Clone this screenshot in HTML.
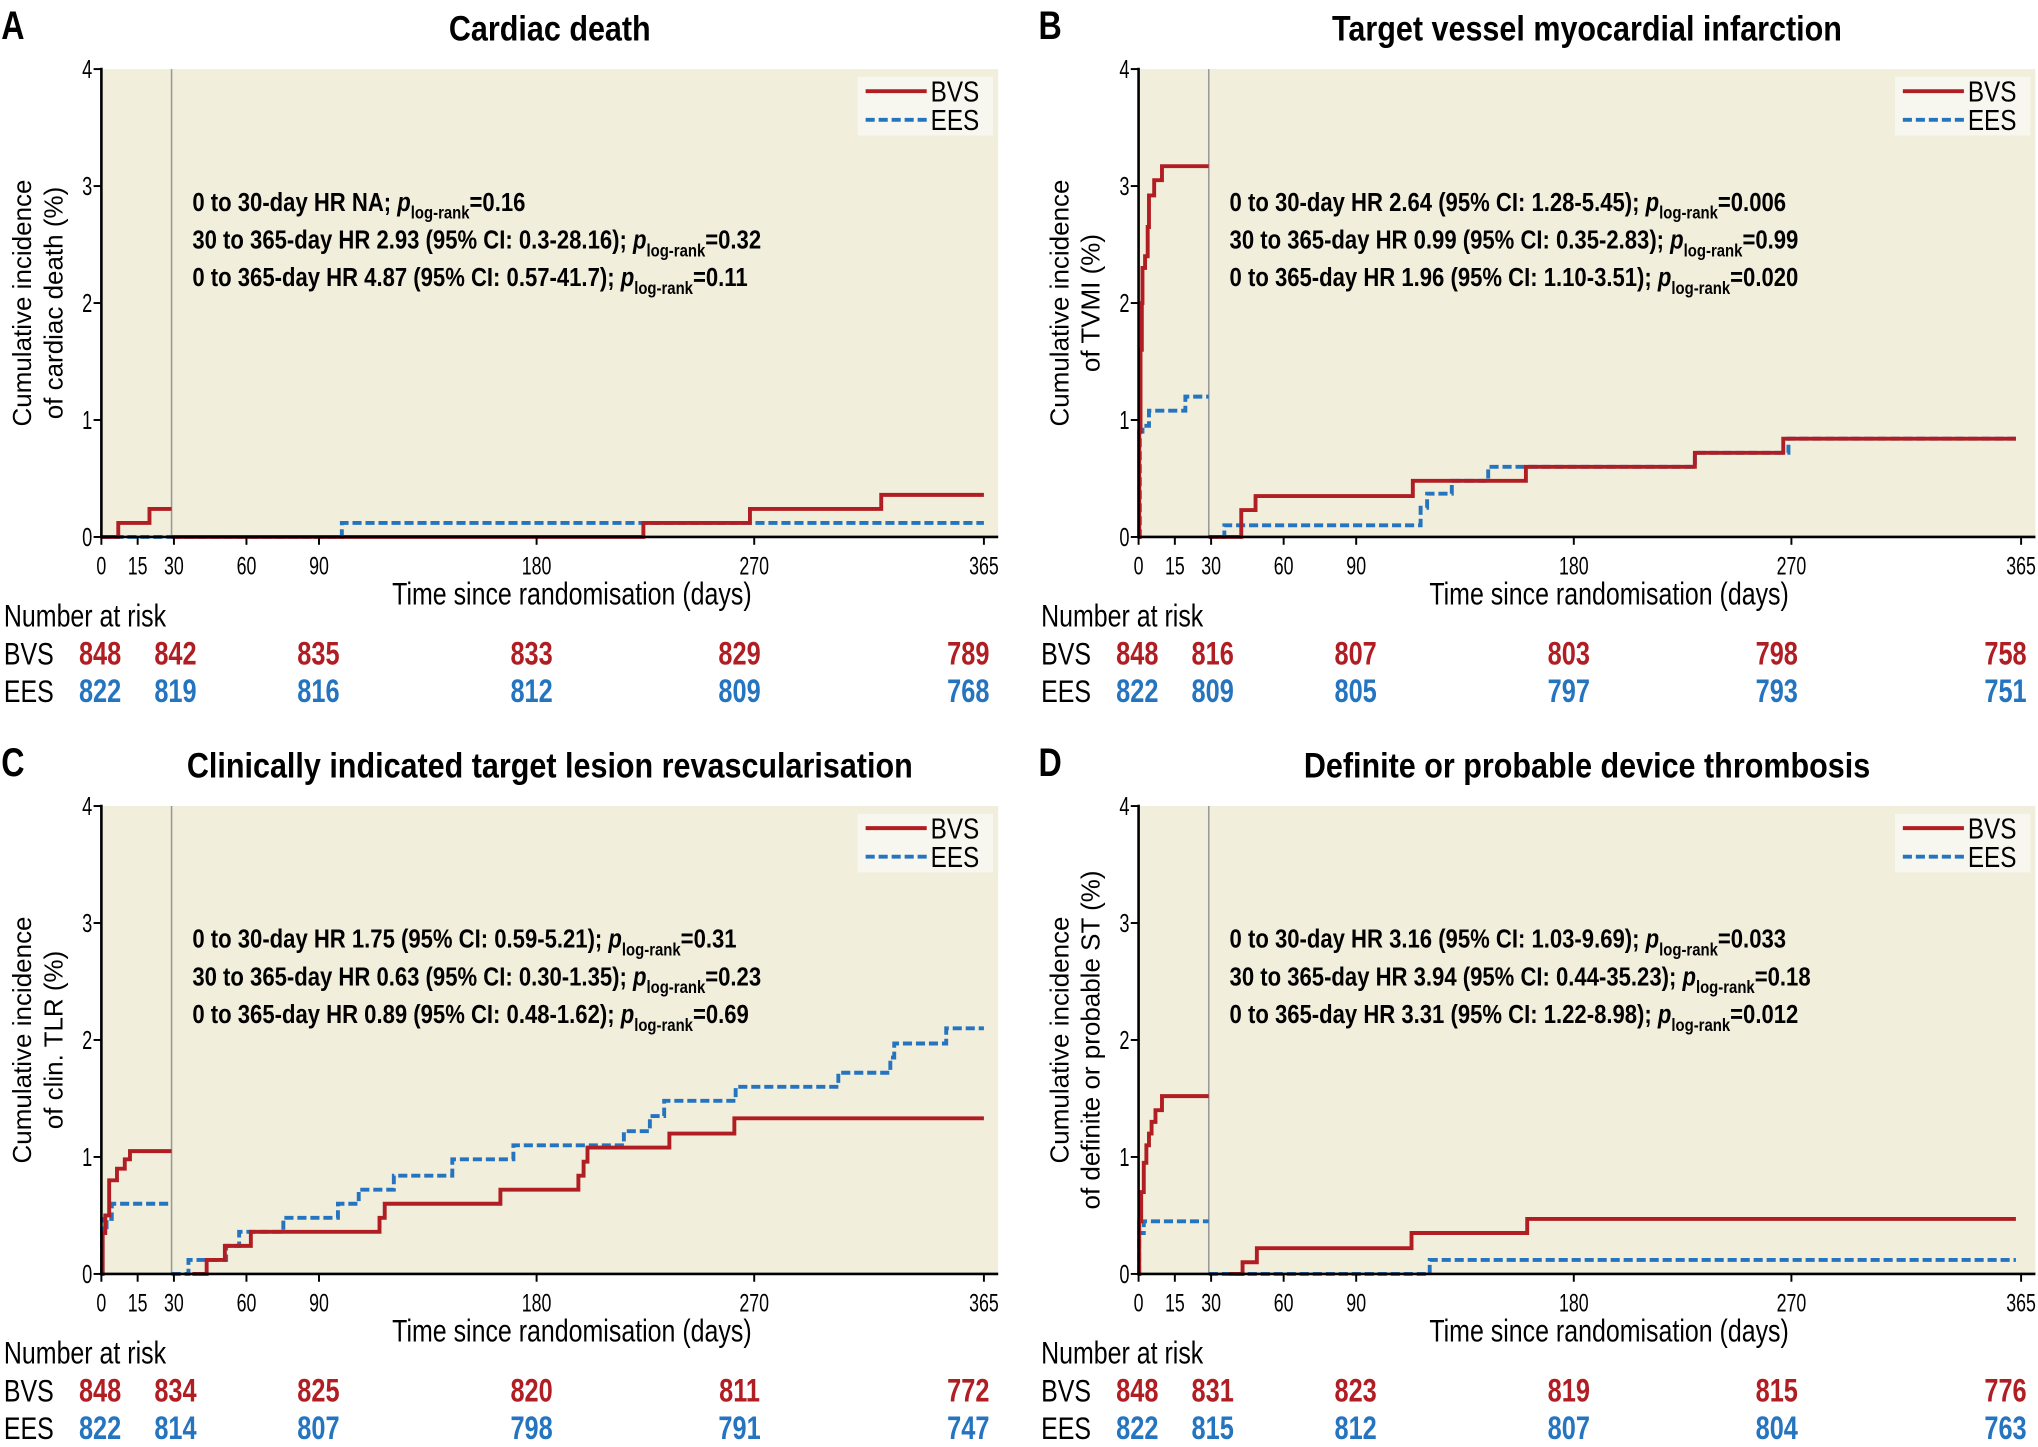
<!DOCTYPE html>
<html><head><meta charset="utf-8">
<style>
html,body{margin:0;padding:0;background:#fff;}
svg{display:block;}
.n{font-family:"Liberation Sans Narrow","Liberation Sans",sans-serif;}
.r{font-family:"Liberation Sans",sans-serif;}
</style></head>
<body>
<svg id="s" width="2038" height="1447" viewBox="0 0 1568 1113" xmlns="http://www.w3.org/2000/svg"></svg>
<script>
const RED="#b01e23",BLUE="#2474c0";
const svg=document.getElementById('s');
let h='';
const X=d=>78+d*(679/365);
function T(x,y,sx,attrs,content){
  return `<g transform="translate(${x},${y}) scale(${sx},1)"><text x="0" y="0" class="n" ${attrs}>${content}</text></g>`;
}
function panel(ox,oy,letter,title,ylab,ann,bvs0,ees0,bvs1,ees1,nb,ne){
  const Y=v=>oy+413-90*v;
  const x=lx=>ox+lx;
  h+=`<rect x="${x(78)}" y="${oy+53}" width="${690}" height="360" fill="#f2eedc"/>`;
  h+=T(ox+1,oy+30,0.8,'font-weight="bold" font-size="31"',letter);
  h+=T(ox+423,oy+31,0.87,'font-weight="bold" font-size="27" text-anchor="middle"',title);
  h+=`<rect x="${x(660)}" y="${oy+59}" width="104" height="45" fill="#f8f7ef"/>`;
  h+=`<line x1="${x(666)}" y1="${oy+70}" x2="${x(713)}" y2="${oy+70}" stroke="${RED}" stroke-width="3"/>`;
  h+=`<line x1="${x(666)}" y1="${oy+92}" x2="${x(713)}" y2="${oy+92}" stroke="${BLUE}" stroke-width="3" stroke-dasharray="7,3"/>`;
  h+=T(x(716),oy+78,0.85,'font-size="22"','BVS');
  h+=T(x(716),oy+100,0.85,'font-size="22"','EES');
  h+=`<line x1="${x(132)}" y1="${oy+53}" x2="${x(132)}" y2="${oy+413}" stroke="#999" stroke-width="1.2"/>`;
  ann.forEach((a,i)=>{
    const yy=oy+162+i*29;
    h+=T(x(148),yy,0.85,'font-weight="bold" font-size="20"',`${a[0]}<tspan font-style="italic">p</tspan><tspan font-size="13.5" dy="6">log-rank</tspan><tspan dy="-6">${a[1]}</tspan>`);
  });
  function path(a,col,dash){
    let pts=[];for(let i=0;i<a.length;i++){if(i>0)pts.push([a[i][0],a[i-1][1]]);pts.push(a[i]);}
    let d='';pts.forEach((p,i)=>{d+=(i?'L':'M')+x(p[0]).toFixed(1)+','+Y(p[1]).toFixed(1);});
    return `<path d="${d}" fill="none" stroke="${col}" stroke-width="3" ${dash?'stroke-dasharray="7,3"':''}/>`;}
  h+=path(ees1,BLUE,true);h+=path(bvs1,RED,false);
  h+=path(ees0,BLUE,true);h+=path(bvs0,RED,false);
  h+=`<line x1="${x(78)}" y1="${oy+52}" x2="${x(78)}" y2="${oy+414}" stroke="#000" stroke-width="2"/>`;
  h+=`<line x1="${x(77)}" y1="${oy+413}" x2="${x(768)}" y2="${oy+413}" stroke="#000" stroke-width="2"/>`;
  for(let v=0;v<=4;v++){h+=`<line x1="${x(72)}" y1="${Y(v)}" x2="${x(78)}" y2="${Y(v)}" stroke="#000" stroke-width="1.5"/>`;
    h+=T(x(71),Y(v)+7,0.7,'font-size="20" text-anchor="end"',v);}
  [0,15,30,60,90,180,270,365].forEach(d=>{const px=x(X(d));
    h+=`<line x1="${px}" y1="${oy+413}" x2="${px}" y2="${oy+419}" stroke="#000" stroke-width="1.5"/>`;
    h+=T(px,oy+442,0.72,'font-size="19" text-anchor="middle"',d);});
  h+=T(x(440),oy+465,0.8,'font-size="24" text-anchor="middle"','Time since randomisation (days)');
  const cy=oy+233;
  h+=`<text transform="translate(${ox+24},${cy}) rotate(-90)" class="r" font-size="20" text-anchor="middle">${ylab[0]}</text>`;
  h+=`<text transform="translate(${ox+48},${cy}) rotate(-90)" class="r" font-size="20" text-anchor="middle">${ylab[1]}</text>`;
  h+=T(ox+3,oy+482,0.8,'font-size="24"','Number at risk');
  h+=T(ox+3,oy+511,0.8,'font-size="24"','BVS');
  h+=T(ox+3,oy+540,0.8,'font-size="24"','EES');
  const cx=[77,135,245,409,569,745];
  nb.forEach((n,i)=>{h+=T(x(cx[i]),oy+511,0.78,`font-weight="bold" font-size="25" fill="${RED}" text-anchor="middle"`,n);});
  ne.forEach((n,i)=>{h+=T(x(cx[i]),oy+540,0.78,`font-weight="bold" font-size="25" fill="${BLUE}" text-anchor="middle"`,n);});
}
const E=757;
panel(0,0,'A','Cardiac death',['Cumulative incidence','of cardiac death (%)'],
 [['0 to 30-day HR NA; ','=0.16'],['30 to 365-day HR 2.93 (95% CI: 0.3-28.16); ','=0.32'],['0 to 365-day HR 4.87 (95% CI: 0.57-41.7); ','=0.11']],
 [[78,0],[91,0.12],[115,0.24],[132,0.24]],[[78,0],[132,0]],
 [[132,0],[495,0.12],[577,0.24],[678,0.36],[E,0.36]],
 [[132,0],[263,0.12],[E,0.12]],
 [848,842,835,833,829,789],[822,819,816,812,809,768]);
panel(798,0,'B','Target vessel myocardial infarction',['Cumulative incidence','of TVMI (%)'],
 [['0 to 30-day HR 2.64 (95% CI: 1.28-5.45); ','=0.006'],['30 to 365-day HR 0.99 (95% CI: 0.35-2.83); ','=0.99'],['0 to 365-day HR 1.96 (95% CI: 1.10-3.51); ','=0.020']],
 [[78,0],[78.5,0.9],[79.5,1.6],[80.5,2.0],[81,2.3],[83,2.4],[85,2.65],[86,2.92],[90,3.05],[96,3.17],[132,3.17]],
 [[78,0],[79,0.9],[81,0.95],[86,1.08],[96,1.08],[114,1.2],[132,1.2]],
 [[132,0],[157,0.23],[168,0.35],[289,0.48],[376,0.6],[506,0.72],[574,0.84],[753,0.84]],
 [[132,0],[144,0.1],[295,0.25],[300,0.37],[319,0.48],[347,0.6],[506,0.72],[578,0.84],[753,0.84]],
 [848,816,807,803,798,758],[822,809,805,797,793,751]);
panel(0,567,'C','Clinically indicated target lesion revascularisation',['Cumulative incidence','of clin. TLR (%)'],
 [['0 to 30-day HR 1.75 (95% CI: 0.59-5.21); ','=0.31'],['30 to 365-day HR 0.63 (95% CI: 0.30-1.35); ','=0.23'],['0 to 365-day HR 0.89 (95% CI: 0.48-1.62); ','=0.69']],
 [[78,0],[79,0.35],[81,0.5],[84,0.8],[90,0.9],[96,0.98],[100,1.05],[132,1.05]],
 [[78,0],[78.5,0.47],[80,0.35],[82,0.47],[86,0.6],[132,0.6]],
 [[148,0],[159,0.12],[173,0.24],[193,0.36],[292,0.48],[296,0.6],[385,0.72],[445,0.84],[449,0.96],[452,1.08],[515,1.2],[565,1.33],[E,1.33]],
 [[132,0],[145,0.12],[174,0.24],[184,0.36],[218,0.48],[260,0.6],[276,0.72],[303,0.84],[348,0.98],[395,1.1],[468,1.1],[480,1.22],[500,1.35],[511,1.48],[566,1.6],[645,1.72],[685,1.85],[688,1.97],[728,2.1],[E,2.1]],
 [848,834,825,820,811,772],[822,814,807,798,791,747]);
panel(798,567,'D','Definite or probable device thrombosis',['Cumulative incidence','of definite or probable ST (%)'],
 [['0 to 30-day HR 3.16 (95% CI: 1.03-9.69); ','=0.033'],['30 to 365-day HR 3.94 (95% CI: 0.44-35.23); ','=0.18'],['0 to 365-day HR 3.31 (95% CI: 1.22-8.98); ','=0.012']],
 [[78,0],[78.5,0.45],[80,0.7],[82,0.95],[84,1.1],[86,1.2],[88,1.3],[91,1.4],[96,1.52],[132,1.52]],
 [[78,0],[78.5,0.35],[82,0.45],[132,0.45]],
 [[148,0],[158,0.1],[169,0.22],[288,0.35],[377,0.47],[753,0.47]],
 [[132,0],[302,0.12],[753,0.12]],
 [848,831,823,819,815,776],[822,815,812,807,804,763]);
svg.innerHTML=h;
</script>
</body></html>
